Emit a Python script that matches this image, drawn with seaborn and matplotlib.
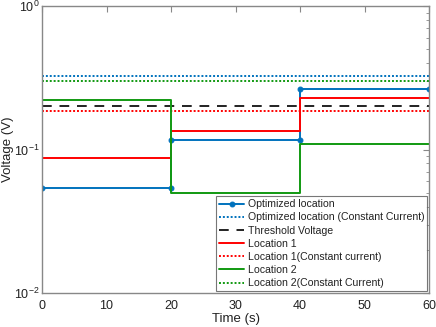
import numpy as np
import pandas as pd
import matplotlib
matplotlib.use("Agg")
import matplotlib.pyplot as plt
import matplotlib.ticker as mticker
import seaborn as sns

# ---- data ----
seg_edges = [0, 20, 40, 60]
opt_levels = [0.054, 0.117, 0.265]
loc1_levels = [0.087, 0.134, 0.23]
loc2_levels = [0.22, 0.05, 0.109]
opt_const = 0.327
loc1_const = 0.184
loc2_const = 0.298
threshold = 0.2
x_ticks = [0, 10, 20, 30, 40, 50, 60]

def step_xy(levels):
    xs, ys = [], []
    for i, v in enumerate(levels):
        xs += [seg_edges[i], seg_edges[i + 1]]
        ys += [v, v]
    return xs, ys

sns.set_style("white")
plt.rcParams['font.family'] = ['Liberation Sans', 'DejaVu Sans']

blue = '#0072BD'
red = '#FF0000'
green = '#119911'
gray = '#888888'

fig = plt.figure(figsize=(4.36, 3.27), dpi=100)
ax = fig.add_axes([42 / 436, 1 - 293 / 327, (429 - 42) / 436, (293 - 6) / 327])

kw = dict(sort=False, estimator=None, ax=ax, lw=1.4)

xs, ys = step_xy(opt_levels)
sns.lineplot(x=xs, y=ys, color=blue, marker='o', markersize=3.5,
             markeredgecolor=blue, label='Optimized location', **kw)
sns.lineplot(x=[0, 60], y=[opt_const, opt_const], color=blue,
             linestyle=(0, (1, 1)), label='Optimized location (Constant Current)', **kw)
sns.lineplot(x=[0, 60], y=[threshold, threshold], color='#222222',
             linestyle=(0, (5, 4)), label='Threshold Voltage', **kw)
xs, ys = step_xy(loc1_levels)
sns.lineplot(x=xs, y=ys, color=red, label='Location 1', **kw)
sns.lineplot(x=[0, 60], y=[loc1_const, loc1_const], color=red,
             linestyle=(0, (1, 1)), label='Location 1(Constant current)', **kw)
xs, ys = step_xy(loc2_levels)
sns.lineplot(x=xs, y=ys, color=green, label='Location 2', **kw)
sns.lineplot(x=[0, 60], y=[loc2_const, loc2_const], color=green,
             linestyle=(0, (1, 1)), label='Location 2(Constant Current)', **kw)

ax.set_yscale('log')
ax.set_ylim(1e-2, 1)
ax.set_xlim(0, 60)
ax.set_xticks(x_ticks)
ax.yaxis.set_major_locator(mticker.LogLocator(base=10, numticks=5))
ax.yaxis.set_minor_locator(mticker.LogLocator(base=10, subs=np.arange(2, 10), numticks=10))
ax.yaxis.set_minor_formatter(mticker.NullFormatter())
ax.tick_params(axis='both', which='both', direction='in', top=True, right=True,
               colors=gray, labelcolor='#222222', labelsize=9)
ax.tick_params(which='major', length=4, width=0.8)
ax.tick_params(which='minor', length=2.5, width=0.6)
ax.tick_params(axis='x', pad=5)
ax.tick_params(axis='y', pad=2)
for s in ax.spines.values():
    s.set_color(gray)
    s.set_linewidth(1.0)
ax.set_xlabel('Time (s)', fontsize=9.5, color='#222222', labelpad=1)
ax.set_ylabel('Voltage (V)', fontsize=9.5, color='#222222', labelpad=0)

leg = ax.legend(loc='lower right', bbox_to_anchor=(1.0, 0.0), fontsize=7.6,
                frameon=True, fancybox=False,
                borderpad=0.3, labelspacing=0.3, handlelength=2.4,
                handletextpad=0.3, borderaxespad=0.15)
leg.get_frame().set_edgecolor('#555555')
leg.get_frame().set_linewidth(0.8)
for t in leg.get_texts():
    t.set_color('#222222')

fig.savefig('out.png', dpi=100)
